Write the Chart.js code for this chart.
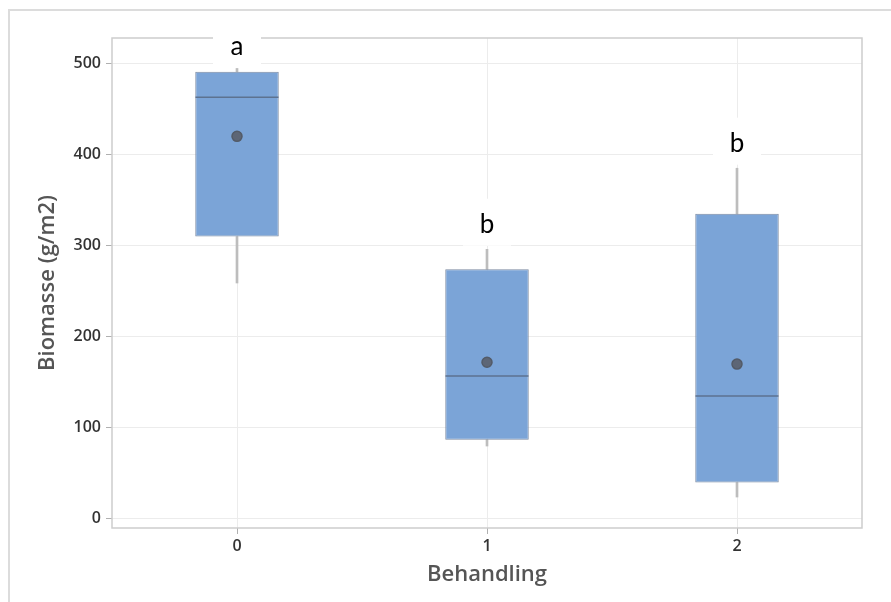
<!DOCTYPE html>
<html>
<head>
<meta charset="utf-8">
<script src="https://cdn.jsdelivr.net/npm/chart.js@4"></script>
<style>
  html, body { margin: 0; padding: 0; background: #fff; }
  #wrap { position: relative; width: 891px; height: 602px; }
  #frame { position: absolute; left: 8px; top: 9px; right: 0; bottom: 0;
           border-left: 2px solid #dcdcdc; border-top: 2px solid #dcdcdc; }
  canvas { position: absolute; left: 0; top: 0; }
</style>
</head>
<body>
<div id="wrap">
  <div id="frame"></div>
  <canvas id="c" width="891" height="602"></canvas>
</div>
<script>
// Treatment groups
const categories = ['0', '1', '2'];
// Five-number summaries of biomass (g/m2) per treatment
const minimum  = [259, 80, 24];
const q1       = [310, 87, 40];
const median   = [463, 157, 135];
const q3       = [491, 274, 335];
const maximum  = [498, 296, 385];
const mean     = [420, 172, 170];
// Significance letters and the value at which each is written
const letters  = ['a', 'b', 'b'];
const letterAt = [518, 323, 412];
// Y axis ticks
const yTicks = [0, 100, 200, 300, 400, 500];

const boxFill = '#7ba4d7';
const boxEdge = '#7d8ba2';
const whiskerColor = '#bdbdbd';
const tickFont = { family: '"Open Sans", sans-serif', size: 16, weight: '600' };
const titleFont = { family: '"Open Sans", sans-serif', size: 22, weight: '600' };

// Light frame around the plotting area
const plotFrame = {
  id: 'plotFrame',
  beforeDatasetsDraw(chart) {
    const a = chart.chartArea, ctx = chart.ctx;
    ctx.save();
    ctx.strokeStyle = '#cdcdcd';
    ctx.lineWidth = 1.5;
    ctx.strokeRect(a.left, a.top, a.right - a.left, a.bottom - a.top);
    ctx.restore();
  }
};

// Group letters on white patches above each box
const letterLabels = {
  id: 'letterLabels',
  afterDatasetsDraw(chart) {
    const x = chart.scales.x, y = chart.scales.y, ctx = chart.ctx;
    ctx.save();
    ctx.font = '26px Lato, "Liberation Sans", sans-serif';
    ctx.textAlign = 'center';
    ctx.textBaseline = 'middle';
    letters.forEach((t, i) => {
      const px = x.getPixelForValue(i);
      const py = y.getPixelForValue(letterAt[i]);
      ctx.fillStyle = '#ffffff';
      ctx.fillRect(px - 24, py - 26, 48, 47);
      ctx.fillStyle = '#000000';
      ctx.fillText(t, px, py);
    });
    ctx.restore();
  }
};

new Chart(document.getElementById('c'), {
  type: 'bar',
  data: {
    labels: categories,
    datasets: [
      {
        type: 'line', data: mean, showLine: false,
        pointStyle: 'circle', pointRadius: 5,
        pointBackgroundColor: '#5d6676', pointBorderColor: '#535b68', pointBorderWidth: 1.5,
        order: 0
      },
      {
        type: 'line', data: median, showLine: false,
        pointStyle: 'line', pointRadius: 41.5,
        pointBorderColor: '#5d7290', pointBorderWidth: 1.5,
        order: 1
      },
      {
        data: q1.map((v, i) => [v, q3[i]]),
        backgroundColor: boxFill, borderColor: boxEdge, borderWidth: 1,
        borderSkipped: false, grouped: false,
        barPercentage: 0.334, categoryPercentage: 1,
        order: 2
      },
      {
        data: q3.map((v, i) => [v, maximum[i]]),
        backgroundColor: whiskerColor, borderWidth: 0, grouped: false,
        barThickness: 2, order: 3
      },
      {
        data: minimum.map((v, i) => [v, q1[i]]),
        backgroundColor: whiskerColor, borderWidth: 0, grouped: false,
        barThickness: 2, order: 3
      }
    ]
  },
  options: {
    responsive: false,
    animation: false,
    events: [],
    layout: { autoPadding: false, padding: { left: 0, top: 38, right: 29, bottom: 0 } },
    plugins: { legend: { display: false }, tooltip: { enabled: false } },
    scales: {
      x: {
        offset: true,
        grid: { offset: false, color: '#ececec', lineWidth: 1, tickColor: '#b0b0b0', tickLength: 6 },
        border: { display: false },
        ticks: { color: '#333', padding: 3, font: tickFont },
        title: { display: true, text: 'Behandling', color: '#555',
                 font: titleFont, padding: { top: 0, bottom: 14 } },
        afterFit(s) { s.height = 74; s.paddingLeft = 0; s.paddingRight = 0; }
      },
      y: {
        min: -10, max: 528,
        afterBuildTicks(s) { s.ticks = yTicks.map(v => ({ value: v })); },
        grid: { color: '#ececec', lineWidth: 1, tickColor: '#b0b0b0', tickLength: 6 },
        border: { display: false },
        ticks: { color: '#333', padding: 5, font: tickFont },
        title: { display: true, text: 'Biomasse (g/m2)', color: '#555',
                 font: titleFont, padding: { top: 35, bottom: 0 } },
        afterFit(s) { s.width = 112; s.paddingTop = 0; s.paddingBottom = 0; }
      }
    }
  },
  plugins: [plotFrame, letterLabels]
});
</script>
</body>
</html>
